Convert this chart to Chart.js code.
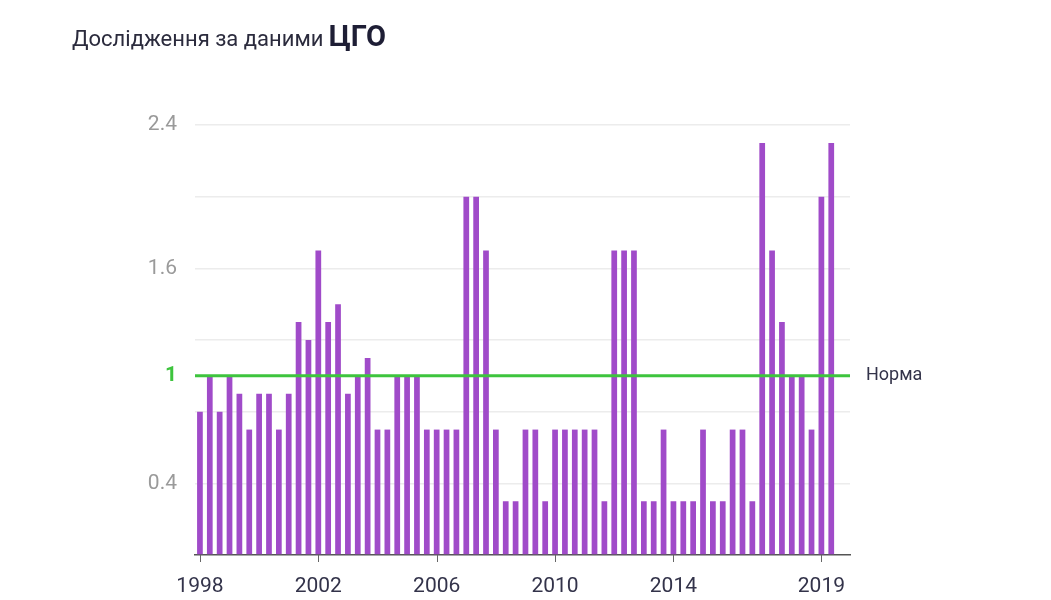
<!DOCTYPE html>
<html>
<head>
<meta charset="utf-8">
<script src="https://cdn.jsdelivr.net/npm/chart.js@4"></script>
<style>
  body { margin: 0; background: #fff; }
  #wrap { position: relative; width: 1051px; height: 600px; }
  #title { position: absolute; left: 72px; top: 19px; font-family: Roboto, sans-serif; font-size: 22px; color: #2b2b3d; }
  #title b { font-size: 29px; color: #1e1e35; }
</style>
</head>
<body>
<div id="wrap">
  <div id="title">Дослідження за даними <b>ЦГО</b></div>
  <canvas id="chart" width="1051" height="600"></canvas>
</div>
<script>
// three readings per year, 1998 .. 2019
const periods = [
  "1998-1","1998-2","1998-3","1999-1","1999-2","1999-3","2000-1","2000-2","2000-3",
  "2001-1","2001-2","2001-3","2002-1","2002-2","2002-3","2003-1","2003-2","2003-3",
  "2004-1","2004-2","2004-3","2005-1","2005-2","2005-3","2006-1","2006-2","2006-3",
  "2007-1","2007-2","2007-3","2008-1","2008-2","2008-3","2009-1","2009-2","2009-3",
  "2010-1","2010-2","2010-3","2011-1","2011-2","2011-3","2012-1","2012-2","2012-3",
  "2013-1","2013-2","2013-3","2014-1","2014-2","2014-3","2015-1","2015-2","2015-3",
  "2016-1","2016-2","2016-3","2017-1","2017-2","2017-3","2018-1","2018-2","2018-3",
  "2019-1","2019-2"
];
const values = [
  0.8,1.0,0.8,1.0,0.9,0.7,0.9,0.9,0.7,
  0.9,1.3,1.2,1.7,1.3,1.4,0.9,1.0,1.1,
  0.7,0.7,1.0,1.0,1.0,0.7,0.7,0.7,0.7,
  2.0,2.0,1.7,0.7,0.3,0.3,0.7,0.7,0.3,
  0.7,0.7,0.7,0.7,0.7,0.3,1.7,1.7,1.7,
  0.3,0.3,0.7,0.3,0.3,0.3,0.7,0.3,0.3,
  0.7,0.7,0.3,2.3,1.7,1.3,1.0,1.0,0.7,
  2.0,2.3
];
const xTickLabels = ["1998","2002","2006","2010","2014","2019"];
const yTickLabels = ["0.4","1.6","2.4"];
const yGrid = [0, 0.4, 0.8, 1, 1.2, 1.6, 2.0, 2.4];
const norm = 1;
const normLabel = "Норма";

const xMin = -0.5, xMax = 65.9;
const barData = values.map((v, i) => ({ x: i, y: v }));
const tickIdx = xTickLabels.map(y => periods.indexOf(y + "-1"));

// short tick marks under the x axis, only at the labelled years
const tickMarks = {
  id: "tickMarks",
  afterDraw(chart) {
    const s = chart.scales.x, ctx = chart.ctx;
    ctx.save();
    ctx.strokeStyle = "#666";
    ctx.lineWidth = 1;
    tickIdx.forEach(v => {
      const px = Math.round(s.getPixelForValue(v)) + 0.5;
      ctx.beginPath();
      ctx.moveTo(px, s.top);
      ctx.lineTo(px, s.top + 7);
      ctx.stroke();
    });
    ctx.restore();
  }
};

new Chart(document.getElementById("chart"), {
  data: {
    datasets: [
      {
        type: "bar",
        data: barData,
        backgroundColor: "#a04bc9",
        barPercentage: 0.58,
        categoryPercentage: 1,
        order: 2
      },
      {
        type: "line",
        data: [{ x: xMin, y: norm }, { x: xMax, y: norm }],
        borderColor: "#3ec43e",
        borderWidth: 3,
        pointRadius: 0,
        order: 1
      }
    ]
  },
  plugins: [tickMarks],
  options: {
    responsive: false,
    animation: false,
    layout: { padding: { top: 125, left: 0, right: 0, bottom: 0 } },
    plugins: { legend: { display: false }, tooltip: { enabled: false } },
    scales: {
      x: {
        type: "linear",
        offset: false,
        min: xMin,
        max: xMax,
        afterBuildTicks: s => { s.ticks = tickIdx.map(v => ({ value: v })); },
        afterFit: s => { s.height = 45; },
        ticks: {
          autoSkip: false,
          maxRotation: 0,
          padding: 11,
          color: "#33334a",
          font: { family: "Roboto", size: 21 },
          callback: (v, i) => xTickLabels[i]
        },
        grid: { display: false },
        border: { display: true, color: "#555", width: 1.5 }
      },
      y: {
        min: 0,
        max: 2.4,
        afterBuildTicks: s => { s.ticks = yGrid.map(v => ({ value: v })); },
        afterFit: s => { s.width = 195; },
        ticks: {
          padding: 18,
          font: c => ({ family: "Roboto", size: 21, weight: c.tick && c.tick.value === norm ? "bold" : "normal" }),
          color: c => c.tick.value === norm ? "#3ec43e" : "#9a9a9a",
          callback: v => v === norm ? String(norm) : (yTickLabels.includes(v.toFixed(1)) ? v.toFixed(1) : "")
        },
        grid: {
          drawTicks: false,
          color: c => (c.tick.value === norm || c.tick.value === 0) ? "rgba(0,0,0,0)" : "#ececec",
          lineWidth: 1.5
        },
        border: { display: false }
      },
      y2: {
        position: "right",
        min: 0,
        max: 2.4,
        afterBuildTicks: s => { s.ticks = [{ value: norm }]; },
        afterFit: s => { s.width = 1051 - 850; },
        ticks: {
          padding: 16,
          color: "#33334a",
          font: { family: "Roboto", size: 18 },
          callback: () => normLabel
        },
        grid: { display: false, drawTicks: false },
        border: { display: false }
      }
    }
  }
});
</script>
</body>
</html>
